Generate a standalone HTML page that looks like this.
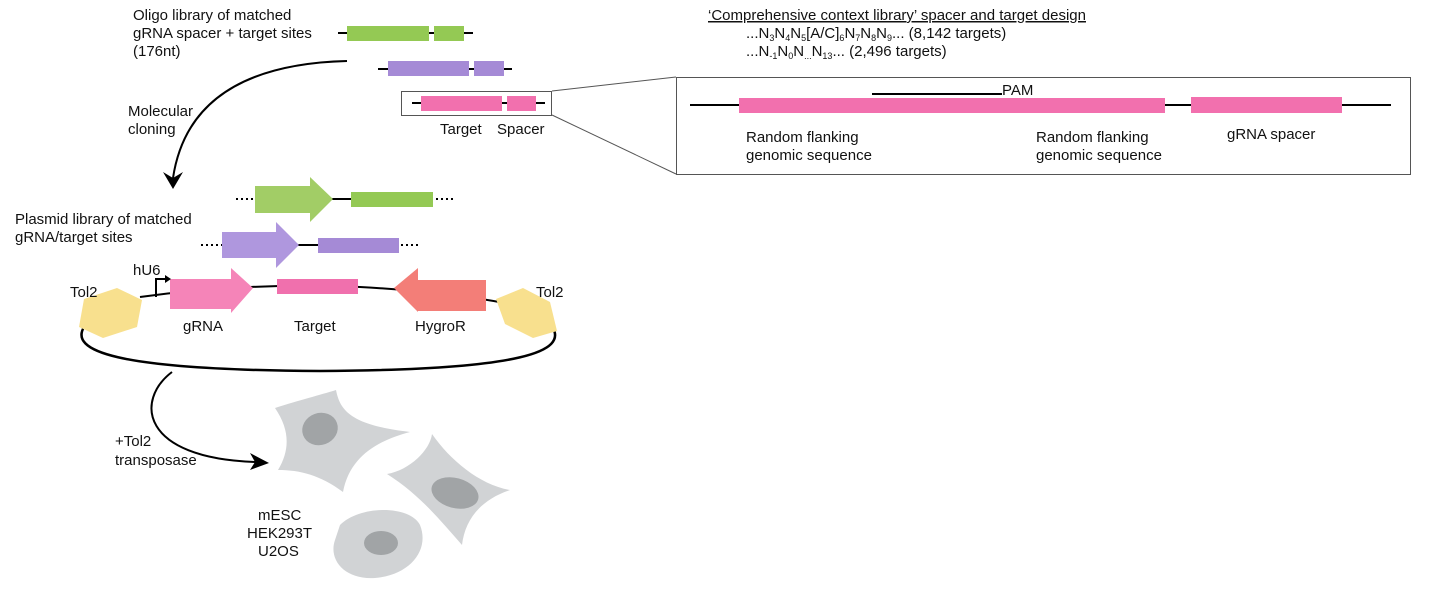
<!DOCTYPE html>
<html><head><meta charset="utf-8"><style>
html,body{margin:0;padding:0;background:#fff;}
svg{display:block;}
text{font-family:"Liberation Sans",Arial,sans-serif;font-size:15px;fill:#111;}
</style></head><body>
<svg width="1437" height="589" viewBox="0 0 1437 589" xmlns="http://www.w3.org/2000/svg">
<text x="133" y="20">Oligo library of matched</text>
<text x="133" y="38">gRNA spacer + target sites</text>
<text x="133" y="56">(176nt)</text>
<line x1="338" y1="33" x2="473" y2="33" stroke="#000" stroke-width="2"/>
<rect x="347" y="26" width="82" height="15" fill="#94c954"/>
<rect x="434" y="26" width="30" height="15" fill="#94c954"/>
<line x1="378" y1="69" x2="512" y2="69" stroke="#000" stroke-width="2"/>
<rect x="388" y="61" width="81" height="15" fill="#a58ad6"/>
<rect x="474" y="61" width="30" height="15" fill="#a58ad6"/>
<rect x="401.5" y="91.5" width="150" height="24" fill="none" stroke="#555" stroke-width="1"/>
<line x1="412" y1="103" x2="545" y2="103" stroke="#000" stroke-width="2"/>
<rect x="421" y="96" width="81" height="15" fill="#f270ae"/>
<rect x="507" y="96" width="29" height="15" fill="#f270ae"/>
<text x="440" y="134">Target</text>
<text x="497" y="134">Spacer</text>
<line x1="552" y1="91" x2="676" y2="77" stroke="#555" stroke-width="1"/>
<line x1="552" y1="115" x2="676" y2="174" stroke="#555" stroke-width="1"/>
<text x="708" y="20" text-decoration="underline">‘Comprehensive context library’ spacer and target design</text>
<text x="746" y="38">...N<tspan font-size="9" dy="3">3</tspan><tspan dy="-3">N</tspan><tspan font-size="9" dy="3">4</tspan><tspan dy="-3">N</tspan><tspan font-size="9" dy="3">5</tspan><tspan dy="-3">[A/C]</tspan><tspan font-size="9" dy="3">6</tspan><tspan dy="-3">N</tspan><tspan font-size="9" dy="3">7</tspan><tspan dy="-3">N</tspan><tspan font-size="9" dy="3">8</tspan><tspan dy="-3">N</tspan><tspan font-size="9" dy="3">9</tspan><tspan dy="-3">... (8,142 targets)</tspan></text>
<text x="746" y="56">...N<tspan font-size="9" dy="3">-1</tspan><tspan dy="-3">N</tspan><tspan font-size="9" dy="3">0</tspan><tspan dy="-3">N</tspan><tspan font-size="9" dy="3">...</tspan><tspan dy="-3">N</tspan><tspan font-size="9" dy="3">13</tspan><tspan dy="-3">... (2,496 targets)</tspan></text>
<rect x="676.5" y="77.5" width="734" height="97" fill="none" stroke="#555" stroke-width="1"/>
<line x1="690" y1="105" x2="1391" y2="105" stroke="#000" stroke-width="2"/>
<rect x="739" y="98" width="426" height="15" fill="#f270ae"/>
<rect x="1191" y="97" width="151" height="16" fill="#f270ae"/>
<line x1="872" y1="94" x2="1002" y2="94" stroke="#000" stroke-width="2"/>
<text x="1002" y="95">PAM</text>
<text x="746" y="142">Random flanking</text>
<text x="746" y="160">genomic sequence</text>
<text x="1036" y="142">Random flanking</text>
<text x="1036" y="160">genomic sequence</text>
<text x="1227" y="139">gRNA spacer</text>
<path d="M347,61 Q190,65 173,178" fill="none" stroke="#000" stroke-width="2"/>
<path d="M163,172 L173,189 L183,172 L173,178 Z" fill="#000"/>
<text x="128" y="116">Molecular</text>
<text x="128" y="134">cloning</text>
<text x="15" y="224">Plasmid library of matched</text>
<text x="15" y="242">gRNA/target sites</text>
<line x1="236" y1="199" x2="453" y2="199" stroke="#000" stroke-width="2" stroke-dasharray="2,3"/>
<line x1="255" y1="199" x2="433" y2="199" stroke="#000" stroke-width="2"/>
<polygon points="255,186 310,186 310,177 333,199 310,222 310,213 255,213" fill="#a2cd66"/>
<rect x="351" y="192" width="82" height="15" fill="#94c954"/>
<line x1="201" y1="245" x2="420" y2="245" stroke="#000" stroke-width="2" stroke-dasharray="2,3"/>
<line x1="222" y1="245" x2="399" y2="245" stroke="#000" stroke-width="2"/>
<polygon points="222,232 276,232 276,222 299,245 276,268 276,258 222,258" fill="#af97de"/>
<rect x="318" y="238" width="81" height="15" fill="#a58ad6"/>
<path d="M140,297 Q250,282 360,287 Q450,292 515,305" fill="none" stroke="#000" stroke-width="2"/>
<path d="M84,327 C70,350 110,370 320,371 C530,370 565,350 553,328" fill="none" stroke="#000" stroke-width="2.5"/>
<polygon points="117,288 142,300 137,327 103,338 79,327 84,299" fill="#f8e08e"/>
<polygon points="523,288 550,302 557,331 533,338 505,324 496,299" fill="#f8e08e"/>
<polygon points="170,279 231,279 231,268 253,288 231,313 231,309 170,309" fill="#f584b8"/>
<rect x="277" y="279" width="81" height="15" fill="#f070ad"/>
<polygon points="486,280 418,280 418,268 394,288 418,312 418,311 486,311" fill="#f37e78"/>
<path d="M156,297 L156,279 L166,279" fill="none" stroke="#000" stroke-width="2"/>
<polygon points="165,275 171,279 165,283" fill="#000"/>
<text x="133" y="275">hU6</text>
<text x="70" y="297">Tol2</text>
<text x="536" y="297">Tol2</text>
<text x="183" y="331">gRNA</text>
<text x="294" y="331">Target</text>
<text x="415" y="331">HygroR</text>
<path d="M172,372 C135,400 140,458 255,462" fill="none" stroke="#000" stroke-width="2"/>
<path d="M250,453 L269,463 L250,470 L255,462 Z" fill="#000"/>
<text x="115" y="446">+Tol2</text>
<text x="115" y="465">transposase</text>
<path d="M275,408 C300,400 320,395 336,390 C340,410 350,425 410,432 C380,440 350,455 343,492 C320,475 300,470 278,470 C290,450 290,430 275,408 Z" fill="#d1d3d5"/>
<ellipse cx="320" cy="429" rx="18" ry="16" transform="rotate(-20 320 429)" fill="#a1a4a6"/>
<path d="M387,474 C410,470 430,450 432,434 C450,460 480,485 510,490 C480,500 465,520 462,545 C440,520 420,495 387,474 Z" fill="#d1d3d5"/>
<ellipse cx="455" cy="493" rx="24" ry="15" transform="rotate(15 455 493)" fill="#a1a4a6"/>
<path d="M340,525 C360,505 410,505 420,525 C430,550 410,575 375,578 C345,580 328,560 335,540 Z" fill="#d1d3d5"/>
<ellipse cx="381" cy="543" rx="17" ry="12" fill="#a1a4a6"/>
<text x="258" y="520">mESC</text>
<text x="247" y="538">HEK293T</text>
<text x="258" y="556">U2OS</text>
</svg>
</body></html>
